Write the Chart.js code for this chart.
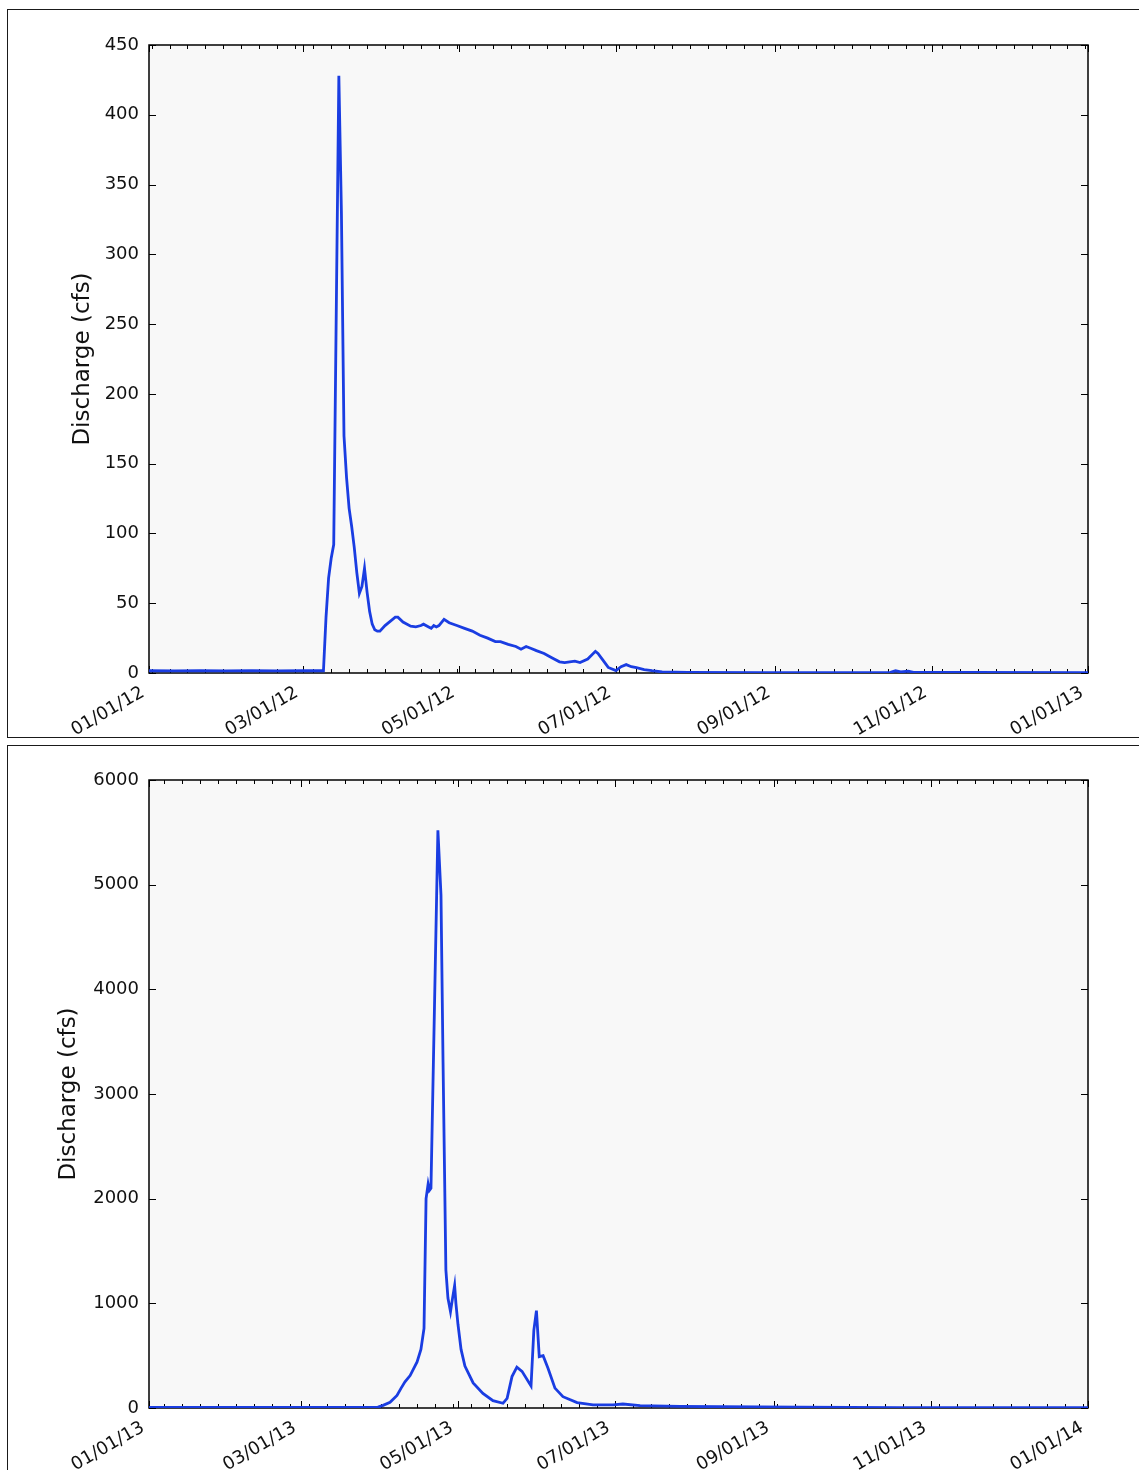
<!DOCTYPE html>
<html>
<head>
<meta charset="utf-8">
<script src="https://cdn.jsdelivr.net/npm/chart.js@4.4.1/dist/chart.umd.min.js"></script>
<style>
  body { margin: 0; background: #fff; width: 1139px; height: 1470px; overflow: hidden; position: relative; }
  .frame { position: absolute; left: 7px; width: 1140px; border: 1px solid #1a1a1a; border-right: none; }
  #frame2012 { top: 9px; height: 727px; }
  #frame2013 { top: 745px; height: 740px; }
  canvas { position: absolute; left: 0; }
  #chart2012 { top: 0; }
  #chart2013 { top: 740px; }
</style>
</head>
<body>
<div class="frame" id="frame2012"></div>
<div class="frame" id="frame2013"></div>
<canvas id="chart2012" width="1139" height="740"></canvas>
<canvas id="chart2013" width="1139" height="730"></canvas>
<script>
// day of year (0 = Jan 1) and daily discharge
const days2012 = [0, 10, 20, 30, 40, 50, 60, 68, 69, 70, 71, 72, 74, 75, 76, 77, 78, 79, 80, 81, 82, 83, 84, 85, 86, 87, 88, 89, 90, 92, 94, 96, 97, 99, 102, 104, 106, 107, 109, 110, 111, 112, 113, 115, 117, 120, 123, 126, 129, 132, 135, 137, 140, 143, 145, 147, 149, 151, 154, 157, 160, 162, 164, 166, 168, 171, 174, 175, 177, 179, 182, 184, 186, 188, 190, 193, 196, 200, 210, 240, 270, 289, 291, 293, 296, 298, 320, 366];
const flow2012 = [1.6, 1.5, 1.6, 1.5, 1.6, 1.5, 1.6, 1.6, 40, 68, 82, 92, 428, 330, 170, 140, 118, 105, 90, 72, 57, 62, 75, 58, 44, 35, 31, 30, 30, 34, 37, 40, 40, 36.5, 33.5, 33, 34, 35, 33, 32, 34, 33, 34, 38.5, 36, 34, 32, 30, 27, 25, 22.5, 22.5, 20.5, 19, 17, 19, 17.5, 16, 14, 11, 8, 7.5, 8, 8.5, 7.5, 10, 15.5, 14, 9, 4, 1.7, 4.5, 6, 4.5, 3.8, 2.5, 1.7, 0.8, 0.4, 0.3, 0.3, 0.4, 1.6, 0.8, 1.4, 0.5, 0.4, 0.3];

const days2013 = [0, 30, 60, 85, 89, 91, 93.7, 96.4, 98, 99.5, 101.5, 104.2, 105.7, 106.9, 107.7, 108.5, 109, 109.6, 112.3, 113.5, 114.3, 115.4, 116.2, 117.2, 118, 118.8, 119.3, 120.1, 121.3, 122.8, 126, 129.8, 133.7, 137.6, 139.2, 141.1, 143, 145, 148.5, 149.6, 150.6, 151.7, 153.2, 155.1, 157.8, 160.9, 166.4, 172.6, 180.4, 184.2, 190.9, 206.4, 222, 253, 292, 365];
const flow2013 = [5, 5, 5, 6, 8, 25, 55, 120, 190, 250, 310, 440, 560, 760, 2000, 2140, 2080, 2100, 5520, 4900, 3300, 1320, 1050, 920, 1050, 1170, 1000, 800, 560, 400, 240, 140, 70, 45, 92, 300, 390, 350, 210, 745, 930, 490, 500, 380, 190, 108, 51, 29, 29, 38, 22, 15, 12, 7, 4, 3];

const xTicks2012 = [0, 60, 121, 182, 244, 305, 366];
const xLabels2012 = ['01/01/12', '03/01/12', '05/01/12', '07/01/12', '09/01/12', '11/01/12', '01/01/13'];
const xTicks2013 = [0, 59, 120, 181, 243, 304, 365];
const xLabels2013 = ['01/01/13', '03/01/13', '05/01/13', '07/01/13', '09/01/13', '11/01/13', '01/01/14'];

const yTicks2012 = [0, 50, 100, 150, 200, 250, 300, 350, 400, 450];
const yTicks2013 = [0, 1000, 2000, 3000, 4000, 5000, 6000];

const LINE_BLUE = '#1a3de2';
const PLOT_BG = '#f8f8f8';
const TEXT = '#111';

Chart.defaults.font.family = '"DejaVu Sans", sans-serif';

// plot background, inward ticks on all four sides, black frame
const frameTicks = {
    id: 'frameTicks',
    beforeDraw(chart) {
        const { ctx, chartArea: a } = chart;
        ctx.save();
        ctx.fillStyle = PLOT_BG;
        ctx.fillRect(a.left, a.top, a.right - a.left, a.bottom - a.top);
        ctx.restore();
    },
    beforeDatasetsDraw(chart, args, opts) {
        const { ctx, chartArea: a, scales: { x, y } } = chart;
        ctx.save();
        ctx.strokeStyle = '#000';
        ctx.lineWidth = 1;
        ctx.beginPath();
        for (let d = opts.firstMonday; d < x.max; d += 7) {
            const px = Math.round(x.getPixelForValue(d)) + 0.5;
            ctx.moveTo(px, a.bottom); ctx.lineTo(px, a.bottom - 4);
            ctx.moveTo(px, a.top); ctx.lineTo(px, a.top + 4);
        }
        x.ticks.forEach(t => {
            const px = Math.round(x.getPixelForValue(t.value)) + 0.5;
            ctx.moveTo(px, a.bottom); ctx.lineTo(px, a.bottom - 7);
            ctx.moveTo(px, a.top); ctx.lineTo(px, a.top + 7);
        });
        y.ticks.forEach(t => {
            const py = Math.round(y.getPixelForValue(t.value)) + 0.5;
            ctx.moveTo(a.left, py); ctx.lineTo(a.left + 7, py);
            ctx.moveTo(a.right, py); ctx.lineTo(a.right - 7, py);
        });
        ctx.stroke();
        ctx.lineWidth = 1.5;
        ctx.strokeRect(a.left, a.top, a.right - a.left, a.bottom - a.top);
        ctx.restore();
    }
};

function makeChart(id, days, flow, xTicks, xLabels, yTicks, firstMonday, plotTop, plotBottom, titleLeft) {
    const canvas = document.getElementById(id);
    const h = canvas.height;
    return new Chart(canvas, {
        type: 'line',
        data: {
            datasets: [{
                data: days.map((d, i) => ({ x: d, y: flow[i] })),
                borderColor: LINE_BLUE,
                borderWidth: 2.8,
                pointRadius: 0,
                tension: 0,
                fill: false
            }]
        },
        options: {
            responsive: false,
            animation: false,
            devicePixelRatio: 1,
            layout: { padding: { left: titleLeft, top: plotTop, right: 1139 - 1088, bottom: 0 } },
            plugins: {
                legend: { display: false },
                tooltip: { enabled: false },
                frameTicks: { firstMonday: firstMonday }
            },
            scales: {
                x: {
                    type: 'linear',
                    min: xTicks[0],
                    max: xTicks[xTicks.length - 1],
                    grid: { display: false, drawTicks: false },
                    border: { display: false },
                    afterBuildTicks: s => { s.ticks = xTicks.map(v => ({ value: v })); },
                    afterFit: s => { s.height = h - plotBottom; },
                    ticks: {
                        autoSkip: false,
                        minRotation: 30,
                        maxRotation: 30,
                        padding: 9,
                        labelOffset: -6,
                        color: TEXT,
                        font: { size: 18 },
                        callback: (v, i) => xLabels[i]
                    }
                },
                y: {
                    min: yTicks[0],
                    max: yTicks[yTicks.length - 1],
                    grid: { display: false, drawTicks: false },
                    border: { display: false },
                    afterBuildTicks: s => { s.ticks = yTicks.map(v => ({ value: v })); },
                    afterFit: s => { s.width = 149 - titleLeft; },
                    ticks: {
                        padding: 10,
                        color: TEXT,
                        font: { size: 18 },
                        callback: v => String(v)
                    },
                    title: {
                        display: true,
                        text: 'Discharge (cfs)',
                        color: TEXT,
                        font: { size: 23 },
                        padding: { top: 4, bottom: 4 }
                    }
                }
            }
        },
        plugins: [frameTicks]
    });
}

// Jan 2 2012 and Jan 7 2013 are the first Mondays
makeChart('chart2012', days2012, flow2012, xTicks2012, xLabels2012, yTicks2012, 1, 45, 673, 65);
makeChart('chart2013', days2013, flow2013, xTicks2013, xLabels2013, yTicks2013, 6, 40, 668, 51);
</script>
</body>
</html>
